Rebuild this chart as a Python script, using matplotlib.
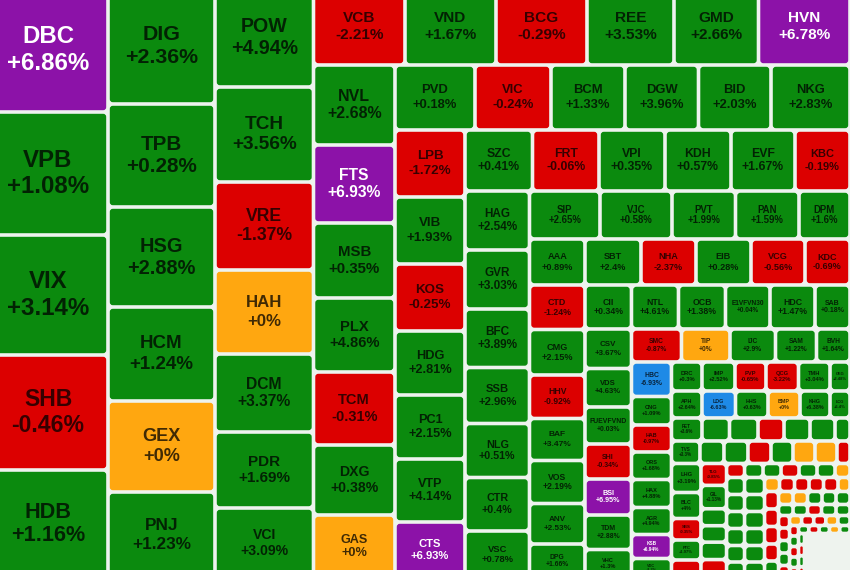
import numpy as np
import matplotlib.pyplot as plt
from matplotlib.patches import FancyBboxPatch

# Heatmap of Vietnamese stocks: ticker, % change, tile size (treemap weight)
# listed strip by strip, the way the treemap spirals in from the top-left.
tickers = [
    'DBC', 'VPB', 'VIX', 'SHB', 'HDB',
    'DIG', 'TPB', 'HSG', 'HCM', 'GEX', 'PNJ',
    'POW', 'TCH', 'VRE', 'HAH', 'DCM', 'PDR', 'VCI',
    'VCB', 'VND', 'BCG', 'REE', 'GMD', 'HVN',
    'NVL', 'FTS', 'MSB', 'PLX', 'TCM', 'DXG', 'GAS',
    'PVD', 'VIC', 'BCM', 'DGW', 'BID', 'NKG',
    'LPB', 'VIB', 'KOS', 'HDG', 'PC1', 'VTP', 'CTS',
    'SZC', 'FRT', 'VPI', 'KDH', 'EVF', 'KBC',
    'HAG', 'GVR', 'BFC', 'SSB', 'NLG', 'CTR', 'VSC',
    'SIP', 'VJC', 'PVT', 'PAN', 'DPM',
    'AAA', 'CTD', 'CMG', 'HHV', 'BAF', 'VOS', 'ANV', 'DPG',
    'SBT', 'NHA', 'EIB', 'VCG', 'KDC',
    'CII', 'CSV', 'VDS', 'FUEVFVND', 'SHI', 'BSI', 'TDM', 'VHC',
    'NTL', 'OCB', 'E1VFVN30', 'HDC', 'SAB',
    'SMC', 'TIP', 'IJC', 'SAM', 'BVH',
    'HBC', 'CNG', 'HAB', 'ORS', 'HAX', 'AGR', 'KSB', 'VDC',
    'DRC', 'IMP', 'PVP', 'QCG', 'TMH', 'GEG',
    'APH', 'LDG', 'HHS', 'BMP', 'KHG', 'LCG',
    'PET', '', '', '', '', '', '',
    'TVS', '', '', '', '', '', '', '',
    'LHG', 'BLC', 'SBS', 'PTC', '',
    'TLG', 'GIL', 'TDC', 'PHR', '', '',
    '', '', '', '', '', '', '',
    '', '', '', '', '', '',
    '', '', '', '', '', '',
    '', '', '', '', '', '',
    '', '', '', '', '',
    '', '', '', '', '',
    '', '', '', '', '',
    '', '', '', '', '',
    '', '', '', '', '',
    '', '', '', '', '',
    '', '', '', '', '',
    '', '', '', '',
    '',
]

changes = [
    6.86, 1.08, 3.14, -0.46, 1.16,
    2.36, 0.28, 2.88, 1.24, 0, 1.23,
    4.94, 3.56, -1.37, 0, 3.37, 1.69, 3.09,
    -2.21, 1.67, -0.29, 3.53, 2.66, 6.78,
    2.68, 6.93, 0.35, 4.86, -0.31, 0.38, 0,
    0.18, -0.24, 1.33, 3.96, 2.03, 2.83,
    -1.72, 1.93, -0.25, 2.81, 2.15, 4.14, 6.93,
    0.41, -0.06, 0.35, 0.57, 1.67, -0.19,
    2.54, 3.03, 3.89, 2.96, 0.51, 0.4, 0.78,
    2.65, 0.58, 1.99, 1.59, 1.6,
    0.89, -1.24, 2.15, -0.92, 3.47, 2.19, 2.53, 1.66,
    2.4, -2.37, 0.28, -0.56, -0.69,
    0.34, 3.67, 4.63, 0.03, -0.34, 6.95, 2.88, 1.3,
    4.61, 1.38, 0.04, 1.47, 0.18,
    -0.87, 0, 2.9, 1.22, 1.64,
    -6.93, 1.09, -0.97, 1.68, 4.88, 4.94, 6.94, 1.2,
    0.3, 2.52, -0.65, -3.22, 3.04, 2.48,
    2.64, -6.63, 0.63, 0, 6.38, 6.4,
    3.6, 2.06, 2.07, -0.9, 1.91, 1.65, 1.2,
    3.3, 6.0, 1.1, -1.8, 3.4, 0, 0, -1.0,
    3.19, 4.0, -0.35, 1.97, -1.0,
    -0.85, 1.13, 4.19, 2.4, 0.84, -1.0,
    -1.0, 1.0, 1.0, -1.0, 1.0, 1.0, 0,
    1.0, 1.0, 1.0, 1.0, 1.0, 1.0,
    1.0, 1.0, 1.0, 1.0, 1.0, 1.0,
    0, -1.0, -1.0, -1.0, -1.0, 0,
    -1.0, -1.0, -1.0, -1.0, 1.0,
    0, 0, 1.0, 1.0, 1.0,
    1.0, 1.0, -1.0, 1.0, 1.0,
    -1.0, -1.0, 1.0, 1.0, -1.0,
    0, -1.0, -1.0, 0, 1.0,
    -1.0, 1.0, -1.0, 1.0, -1.0,
    1.0, -1.0, 1.0, 0, 1.0,
    1.0, -1.0, 1.0, -1.0,
    np.nan,
]

weights = [
    1488, 1476, 1440, 1380, 1296,
    1241.2, 1102.1, 1070, 1005.8, 973.7, 920.2,
    975.2, 935.8, 866.8, 827.4, 768.3, 748.6, 689.5,
    704.6, 700.7, 700.7, 669.9, 650.7, 704.6,
    652, 635.7, 611.3, 603.1, 595, 570.5, 513.5,
    520, 494, 481, 477.8, 471.3, 513.5,
    469, 469, 469, 448, 448, 441, 392,
    411.8, 405.7, 402.6, 402.6, 390.4, 335.5,
    380.6, 380.6, 377.3, 361.2, 348.3, 345.1, 303.2,
    338.4, 345.6, 304.8, 304.8, 244.8,
    255.3, 247, 252.5, 241.4, 233.1, 238.7, 224.8, 188.7,
    257.6, 253, 253, 248.4, 207,
    204.6, 183.7, 179, 172.1, 162.8, 167.4, 160.4, 132.5,
    206.8, 206.8, 195.8, 198, 154,
    165, 160.1, 150.2, 135.3, 110.6,
    138, 114, 108, 110, 112, 108, 96, 78,
    88.5, 95.7, 89.9, 94.3, 91.4, 58,
    82.4, 90.5, 87.8, 86.4, 81, 54,
    70.2, 63.3, 65.6, 59.8, 59.8, 57.5, 34.5,
    64.1, 54, 54, 51.8, 49.5, 49.5, 49.5, 29.3,
    85.6, 76.7, 63.4, 59, 53.1,
    56.1, 59.9, 43.4, 42.1, 44.6, 47.2,
    25.2, 25.9, 25.2, 25.2, 25.2, 25.2, 21.0,
    30.6, 30.6, 30.6, 30.6, 29.7, 28.8,
    34, 34, 34, 34, 33, 32,
    21, 21, 20.3, 20.3, 20.3, 16.8,
    24.5, 24.5, 24.5, 23.8, 23.8,
    18.85, 18.85, 18.85, 18.2, 18.2,
    15.95, 15.95, 15.4, 15.95, 15.4,
    13.75, 13.75, 13.75, 13.75, 13.75,
    12.1, 12.1, 12.1, 12.1, 12.1,
    9.45, 9.45, 9.45, 9.45, 9.45,
    8.24, 8.24, 8.24, 8.24, 8.24,
    6.68, 6.68, 6.68, 6.68,
    202.5,
]

# treemap structure: tiles per strip, V = column on the left, H = row on top
strip_sizes = [5, 6, 7, 6, 7, 6, 7, 6, 7, 5, 8, 5, 8, 5, 5, 8, 6, 6, 7, 8, 5, 6,
               7, 6, 6, 6, 5, 5, 5, 5, 5, 5, 5, 4, 1]
strip_dirs = 'VVVHVHVHVHVHVHHVHHHHVVHVVHVHHVHVHVV'

GREEN = '#0b8a0e'
RED = '#dc0000'
PURPLE = '#8c12a8'
ORANGE = '#ffa710'
BLUE = '#1e8ae6'
BG = '#eef3ee'


def tile_color(v):
    if v >= 6.5:
        return PURPLE
    if v <= -6.5:
        return BLUE
    if v == 0:
        return ORANGE
    return GREEN if v > 0 else RED


def layout(ws, sizes, dirs, rect):
    x0, y0, x1, y1 = rect
    rects = []
    total = float(sum(ws))
    i = 0
    for n, d in zip(sizes, dirs):
        part = ws[i:i + n]
        s = float(sum(part))
        if d == 'V':
            w = (x1 - x0) * s / total
            y = y0
            for v in part:
                h = (y1 - y0) * v / s
                rects.append((x0, y, w, h))
                y += h
            x0 += w
        else:
            h = (y1 - y0) * s / total
            x = x0
            for v in part:
                w = (x1 - x0) * v / s
                rects.append((x, y0, w, h))
                x += w
            y0 += h
        total -= s
        i += n
    return rects


fig = plt.figure(figsize=(8.5, 5.7), dpi=100)
fig.patch.set_facecolor(BG)
ax = fig.add_axes([0, 0, 1, 1])
ax.set_facecolor(BG)
ax.set_xlim(0, 850)
ax.set_ylim(570, 0)
ax.axis('off')

gap = 1.8
rects = layout(weights, strip_sizes, strip_dirs, (-12, -12, 850, 578))
for (x, y, w, h), name, chg in zip(rects, tickers, changes):
    if np.isnan(chg):
        continue
    col = tile_color(chg)
    r = min(3.0, 0.2 * min(w, h))
    ax.add_patch(FancyBboxPatch((x + gap, y + gap), max(w - 2 * gap, 0.5), max(h - 2 * gap, 0.5),
                                boxstyle='round,pad=0,rounding_size=%.2f' % r,
                                facecolor=col, edgecolor='none'))
    if not name or min(w, h) < 18:
        continue
    label = '%+g%%' % chg
    px = 0.2 * min(w, h)
    longest = max(len(name) * 0.72, len(label) * 0.58)
    px = min(px, 0.92 * (w - 2 * gap) / longest)
    tc = 'white' if col == PURPLE else (0, 0, 0, 0.75)
    cx, cy = x + w / 2, y + h / 2
    step = 0.55 * px
    for txt, dy in ((name, -step), (label, step)):
        ax.text(cx, cy + dy, txt, ha='center', va='center', fontsize=px * 0.72,
                fontweight='bold', color=tc, family=['Liberation Sans', 'DejaVu Sans'])

fig.savefig('out.png', dpi=100, facecolor=BG)
